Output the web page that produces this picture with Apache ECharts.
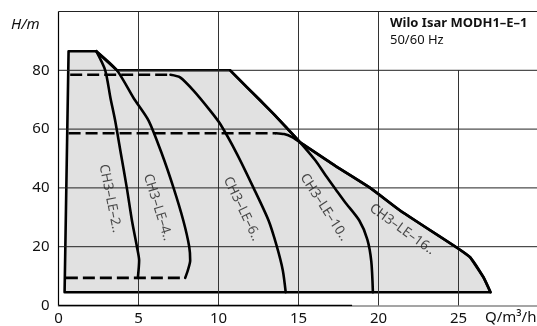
<!DOCTYPE html>
<html>
<head>
<meta charset="utf-8">
<script src="https://cdn.jsdelivr.net/npm/echarts@6/dist/echarts.min.js"></script>
<style>
html,body{margin:0;padding:0;background:#fff;}
#c{width:537px;height:326px;}
</style>
</head>
<body>
<div id="c"></div>
<script>
// ---- data (Q in m3/h, H in m) ----
var xTicks = [0, 5, 10, 15, 20, 25];
var yTicks = [0, 20, 40, 60, 80];
var xMax = 30, yMax = 100;

// operating envelope (shaded)
var envelope = [
  [0.38, 4.5], [0.63, 86.5], [2.36, 86.5], [3.0, 83.2], [3.65, 80], [10.73, 80],
  [11.77, 74.3], [12.6, 69.8], [13.44, 65.2], [14.3, 60.2], [15.1, 55.5],
  [17.3, 47.5], [19.48, 40], [21.35, 32.3], [25.0, 19.3], [25.73, 16.4],
  [26.56, 9.6], [27.0, 4.5]
];

var le2 = [[2.36, 86.5], [2.92, 80], [3.25, 70.5], [3.54, 62.9], [3.9, 51.6], [4.27, 40],
  [4.59, 28.9], [4.9, 20], [5.04, 15.3], [4.96, 9.4]];
var le4 = [[2.36, 86.5], [3.65, 80], [4.7, 70.5], [5.63, 62.9], [6.46, 51.6], [7.19, 40],
  [7.8, 28.9], [8.17, 20], [8.23, 15.3], [8.08, 11.9], [7.92, 9.4]];
var le6Dash = [[0.73, 78.5], [7.0, 78.5]];
var le6 = [[7.0, 78.5], [7.6, 77.6], [8.44, 73.1], [9.48, 66.3], [10.1, 61.8], [11.15, 51.6],
  [12.19, 40], [13.13, 28.9], [13.65, 20], [14.02, 11.9], [14.2, 4.5]];
var le10 = [[10.73, 80], [11.77, 74.3], [12.6, 69.8], [13.44, 65.2], [14.3, 60.2], [15.1, 55.5],
  [16.06, 49.3], [16.7, 44.2], [17.35, 39.3], [17.9, 35.2], [18.8, 28.9], [19.3, 22.5],
  [19.55, 15], [19.65, 4.5]];
var le16Dash = [[0.63, 58.6], [13.6, 58.6]];
var le16 = [[13.6, 58.6], [14.1, 58.3], [14.6, 57.3], [15.1, 55.5], [17.3, 47.5], [19.48, 40],
  [21.35, 32.3], [25.0, 19.3], [25.73, 16.4], [26.56, 9.6], [27.0, 4.5]];
var minDash = [[0.46, 9.4], [7.92, 9.4]];
var baseDarkEnd = 18.35;

var curveLabels = [
  {name: 'CH3–LE–2..',  q: 3.23,  h: 36.4, angle: -78.7},
  {name: 'CH3–LE–4..',  q: 6.2,   h: 33.4, angle: -72.6},
  {name: 'CH3–LE–6..',  q: 11.46, h: 32.9, angle: -64.4},
  {name: 'CH3–LE–10..', q: 16.6,  h: 33.4, angle: -57},
  {name: 'CH3–LE–16..', q: 21.48, h: 25.9, angle: -35.7}
];
// title box occupies the grid cell region from (20, 80) to the top-right corner
var boxQ = 20, boxH = 80;
var titleText = 'Wilo Isar MODH1–E–1';
var subText = '50/60 Hz';
var xName = 'Q/m³/h';
var yName = 'H/m';

// ---- chart ----
var FONT = 'Noto Sans';
var chart = echarts.init(document.getElementById('c'), null, {renderer: 'canvas'});

function gridSeries(data, color, width) {
  return {type: 'line', data: data, symbol: 'none', silent: true, z: 3,
    lineStyle: {color: color, width: width}};
}
function solid(data) {
  return {type: 'line', data: data, smooth: 0.25, symbol: 'none', silent: true,
    lineStyle: {color: '#000', width: 2.6, cap: 'round', join: 'round'}, z: 5};
}
function dashed(data) {
  return {type: 'line', data: data, symbol: 'none', silent: true,
    lineStyle: {color: '#000', width: 2.6, type: [12, 5]}, z: 5};
}

var series = [
  {
    type: 'custom', silent: true, z: 2,
    data: envelope,
    renderItem: function (params, api) {
      if (params.dataIndex !== 0) return null;
      var pts = envelope.map(function (p) { return api.coord(p); });
      return {type: 'polygon', shape: {points: pts},
        style: {fill: '#e1e1e1', stroke: '#000', lineWidth: 2.6, lineJoin: 'round'}};
    }
  }
];
// grid lines built from the tick arrays
xTicks.concat([xMax]).forEach(function (q) {
  if (q === 0) return;
  var top = q > boxQ ? boxH : yMax;
  series.push(gridSeries([[q, 0], [q, top]], '#333', 1));
});
yTicks.concat([yMax]).forEach(function (h) {
  if (h === 0) return;
  series.push(gridSeries([[0, h], [xMax, h]], '#222', 1));
});
series.push(gridSeries([[0, 0], [baseDarkEnd, 0]], '#000', 1.6));
series.push(gridSeries([[0, 0], [0, yMax]], '#000', 1.2));

series = series.concat([
  solid(le2), solid(le4), dashed(le6Dash), solid(le6), solid(le10),
  dashed(le16Dash), solid(le16), dashed(minDash),
  {
    type: 'scatter', symbolSize: 0, silent: true, z: 7,
    data: curveLabels.map(function (l) {
      return {value: [l.q, l.h], label: {show: true, formatter: l.name, rotate: l.angle,
        position: 'inside', align: 'center', verticalAlign: 'middle',
        fontFamily: FONT, fontSize: 13.5, color: '#222'}};
    })
  }
]);

chart.setOption({
  animation: false,
  backgroundColor: '#fff',
  grid: {left: 58.5, right: -1.5, top: 11.5, bottom: 20.5, containLabel: false, outerBoundsMode: 'none'},
  xAxis: {
    type: 'value', min: 0, max: xMax, interval: 5,
    axisLine: {show: true, lineStyle: {color: '#888', width: 1.5}},
    axisTick: {show: false},
    axisLabel: {fontFamily: FONT, fontSize: 15, color: '#111', margin: 6,
      formatter: function (v) { return xTicks.indexOf(+v) >= 0 ? String(v) : ''; }},
    splitLine: {show: false}
  },
  yAxis: {
    type: 'value', min: 0, max: yMax, interval: 20,
    axisLine: {show: false},
    axisTick: {show: false},
    axisLabel: {fontFamily: FONT, fontSize: 15, color: '#111', margin: 9,
      formatter: function (v) { return yTicks.indexOf(+v) >= 0 ? String(v) : ''; }},
    splitLine: {show: false}
  },
  graphic: [
    {type: 'text', left: 390, top: 17, z: 100,
      style: {text: titleText, font: 'bold 13px "Noto Sans"', fill: '#111'}},
    {type: 'text', left: 390, top: 34, z: 100,
      style: {text: subText, font: '13px "Noto Sans"', fill: '#111'}},
    {type: 'text', left: 11, top: 17, z: 100,
      style: {text: yName, font: 'italic 15px "Noto Sans"', fill: '#111'}},
    {type: 'text', left: 485, top: 310, z: 100,
      style: {text: xName, font: '15px "Noto Sans"', fill: '#111'}}
  ],
  series: series
});
</script>
</body>
</html>
